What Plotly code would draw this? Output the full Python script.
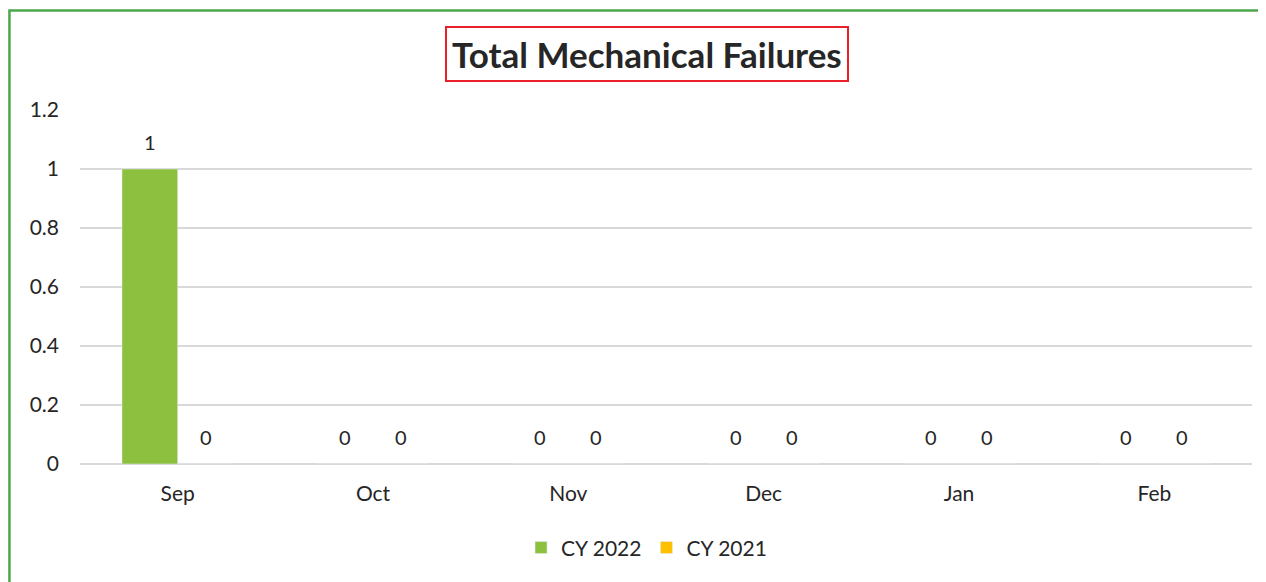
import plotly.graph_objects as go

months = ["Sep", "Oct", "Nov", "Dec", "Jan", "Feb"]
cy2022 = [1, 0, 0, 0, 0, 0]
cy2021 = [0, 0, 0, 0, 0, 0]
y_ticks = [0, 0.2, 0.4, 0.6, 0.8, 1, 1.2]
y_tick_text = ["0", "0.2", "0.4", "0.6", "0.8", "1", "1.2"]

FONT = "Lato, Liberation Sans, sans-serif"
TXT = "#262626"

fig = go.Figure()
fig.add_trace(go.Bar(x=months, y=cy2022, name="CY 2022", marker_color="#8DC03F"))
fig.add_trace(go.Bar(x=months, y=cy2021, name="CY 2021", marker_color="#FFC000"))

# value labels, placed at the data values
for vals, dx in ((cy2022, -28), (cy2021, 28)):
    for m, v in zip(months, vals):
        fig.add_annotation(x=m, y=v, xref="x", yref="y", text=str(v), showarrow=False,
                           xanchor="center", yanchor="bottom", xshift=dx, yshift=13,
                           font=dict(size=20, color=TXT, family=FONT))

fig.update_layout(
    width=1258, height=574,
    margin=dict(l=72, r=14, t=102, b=118),
    paper_bgcolor="white", plot_bgcolor="white",
    barmode="group", bargap=0.43, bargroupgap=0,
    font=dict(family=FONT, color=TXT, size=20),
    legend=dict(orientation="h", x=0.4834, xanchor="center", y=-0.237, yanchor="middle",
                font=dict(size=21), itemwidth=30, traceorder="normal"),
)
fig.update_xaxes(showgrid=False, showline=False, ticks="", ticklabelstandoff=15,
                 tickfont=dict(size=21))
fig.update_yaxes(range=[0, 1.2], tickvals=y_ticks, ticktext=y_tick_text,
                 showgrid=True, gridcolor="#D9D9D9", gridwidth=1.5,
                 zeroline=True, zerolinecolor="#D9D9D9", zerolinewidth=1.5,
                 showline=False, ticks="", ticklabelstandoff=20, tickfont=dict(size=21))

fig.add_annotation(text="<b>Total Mechanical Failures</b>", xref="paper", yref="paper",
                   x=0.4834, y=1.158, xanchor="center", yanchor="middle", showarrow=False,
                   font=dict(size=35, color=TXT, family=FONT),
                   bordercolor="#E8202A", borderwidth=2, borderpad=5, bgcolor="white")

fig.add_shape(type="rect", xref="paper", yref="paper",
              x0=-0.0602, x1=1.0102, y0=-0.4, y1=1.281,
              line=dict(color="#4CA64C", width=2.5), fillcolor="rgba(0,0,0,0)", layer="below")

fig.write_html("out.html")
